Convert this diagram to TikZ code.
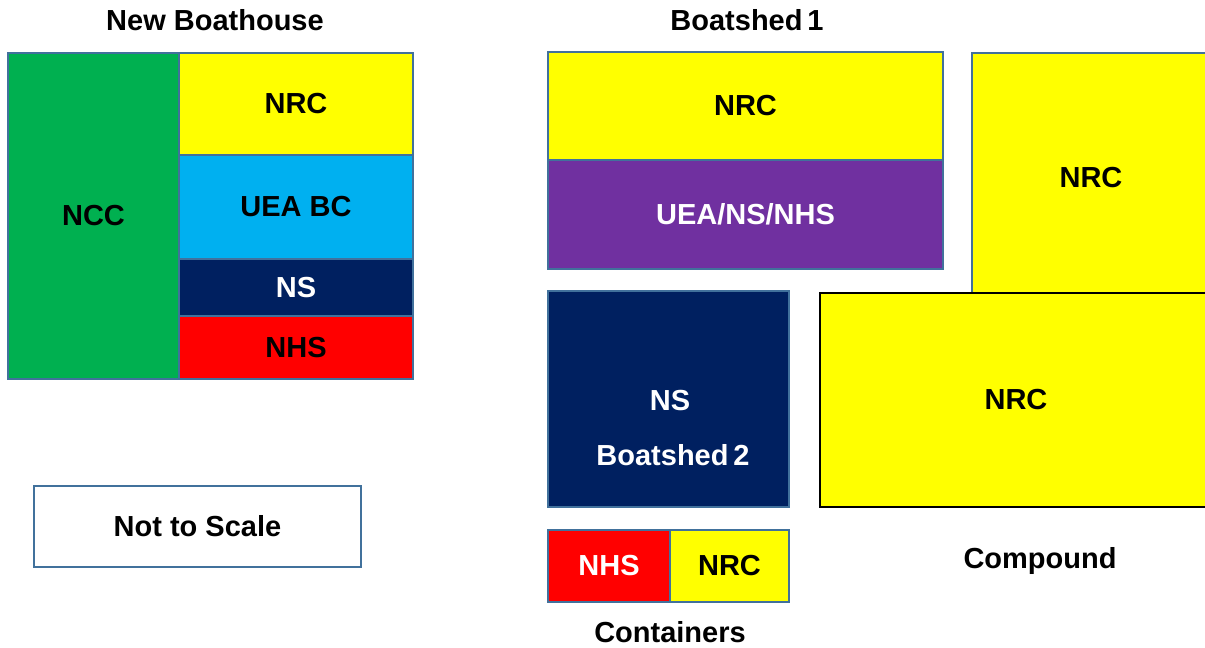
\documentclass[tikz,border=0pt]{standalone}
\usepackage{fontspec}
\setmainfont{Liberation Sans}
\definecolor{edgeblue}{RGB}{65,113,156}
\definecolor{cgreen}{RGB}{0,176,80}
\definecolor{cyellow}{RGB}{255,255,0}
\definecolor{clblue}{RGB}{0,176,240}
\definecolor{cnavy}{RGB}{0,32,96}
\definecolor{cred}{RGB}{255,0,0}
\definecolor{cpurple}{RGB}{112,48,160}
\begin{document}
\begin{tikzpicture}[x=1pt,y=-1pt,
  box/.style={draw=edgeblue,line width=1.5pt,inner sep=0pt,outer sep=0pt,anchor=north west,
    font=\fontsize{29}{32}\selectfont\bfseries,align=center},
  lbl/.style={inner sep=0pt,font=\fontsize{29}{32}\selectfont\bfseries}]
\useasboundingbox (0,0) rectangle (1205,648);
\clip (0,0) rectangle (1205,648);
% titles
\node[lbl] (t1) at (215,20) {New Boathouse};
\node[lbl] (t2) at (747,20) {Boatshed\,1};
% New Boathouse
\node[box,fill=cgreen,minimum width=171pt,minimum height=326pt] (ncc) at (8,53) {NCC};
\node[box,fill=cyellow,minimum width=234pt,minimum height=102pt] (nrc1) at (179,53) {NRC};
\node[box,fill=clblue,minimum width=234pt,minimum height=104pt] (uea) at (179,155) {UEA BC};
\node[box,fill=cnavy,text=white,minimum width=234pt,minimum height=57pt] (ns1) at (179,259) {NS};
\node[box,fill=cred,minimum width=234pt,minimum height=63pt] (nhs1) at (179,316) {NHS};
% Not to scale
\node[box,fill=white,minimum width=327pt,minimum height=81pt] (nts) at (34,486) {Not to Scale};
% Boatshed 1
\node[box,fill=cyellow,minimum width=395pt,minimum height=108pt] (nrc2) at (548,52) {NRC};
\node[box,fill=cpurple,text=white,minimum width=395pt,minimum height=109pt] (ueans) at (548,160) {UEA/NS/NHS};
% right big NRC (behind)
\node[box,fill=cyellow,minimum width=240pt,minimum height=454pt] (nrc3) at (972,53) {};
\node[lbl] (nrc3l) at (1091,178) {NRC};
% compound
\node[box,draw=black,line width=2pt,fill=cyellow,minimum width=392pt,minimum height=214pt] (comp) at (820,293) {NRC};
\node[lbl] (compl) at (1040,561) {Compound};
% Boatshed 2
\node[box,fill=cnavy,minimum width=241pt,minimum height=216pt] (bs2) at (548,291) {};
\node[lbl,text=white] (bs2a) at (670,401) {NS};
\node[lbl,text=white] (bs2b) at (673,455) {Boatshed\,2};
% containers
\node[box,fill=cred,text=white,minimum width=122pt,minimum height=72pt] (cnhs) at (548,530) {NHS};
\node[box,fill=cyellow,minimum width=119pt,minimum height=72pt] (cnrc) at (670,530) {NRC};
\node[lbl] (contl) at (670,632) {Containers};
\end{tikzpicture}
\end{document}
